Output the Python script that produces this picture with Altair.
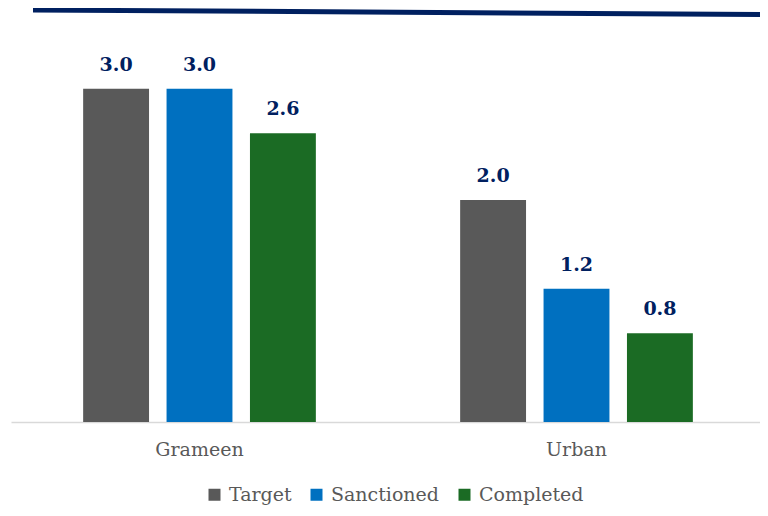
import altair as alt
import pandas as pd

groups = ["Grameen", "Urban"]
series = ["Target", "Sanctioned", "Completed"]
grameen_vals = [3.0, 3.0, 2.6]
urban_vals = [2.0, 1.2, 0.8]
colors = ["#595959", "#0070C0", "#1B6B24"]

rows = []
for g, vals in zip(groups, [grameen_vals, urban_vals]):
    for s, v in zip(series, vals):
        rows.append({"group": g, "series": s, "value": v})
df = pd.DataFrame(rows)

W, H = 750, 402
FONT = "DejaVu Serif"

x = alt.X("group:N", sort=groups, title=None,
          scale=alt.Scale(paddingInner=0, paddingOuter=0, range=[1, 755]),
          axis=alt.Axis(labelAngle=0, ticks=False, domainColor="#D9D9D9", domainWidth=1.5,
                        labelFont=FONT, labelFontSize=19, labelColor="#595959",
                        labelPadding=18))
xo = alt.XOffset("series:N", sort=series,
                 scale=alt.Scale(paddingInner=0.21, paddingOuter=0.865))
y = alt.Y("value:Q", scale=alt.Scale(domain=[0, 3.62], nice=False, zero=True), axis=None)

bars = alt.Chart(df).mark_bar().encode(
    x=x, xOffset=xo, y=y,
    color=alt.Color("series:N", sort=series,
                    scale=alt.Scale(domain=series, range=colors),
                    legend=alt.Legend(title=None, orient="none", direction="horizontal",
                                      legendX=195, legendY=465, symbolType="square",
                                      symbolSize=144, symbolStrokeWidth=0,
                                      labelFont=FONT, labelFontSize=19,
                                      labelColor="#595959", labelOffset=5, columnPadding=15))
)

labels = alt.Chart(df).mark_text(dy=-18, baseline="alphabetic", font=FONT,
                                 fontSize=19, fontWeight="bold", color="#002060").encode(
    x=x, xOffset=xo, y=y, text=alt.Text("value:Q", format=".1f")
)

topline = alt.Chart(pd.DataFrame({"a": [0]})).mark_rule(
    color="#002060", strokeWidth=5, strokeCap="butt").encode(
    x=alt.value(23), x2=alt.value(758), y=alt.value(-10), y2=alt.value(-5.5)
)

chart = alt.layer(bars, labels, topline).properties(
    width=W, height=H,
    autosize=alt.AutoSizeParams(type="none"),
    padding={"left": 2, "top": 12, "right": 0, "bottom": 86},
).configure_view(stroke=None)

chart.save("out.html", embed_options={"renderer": "svg", "actions": False})
